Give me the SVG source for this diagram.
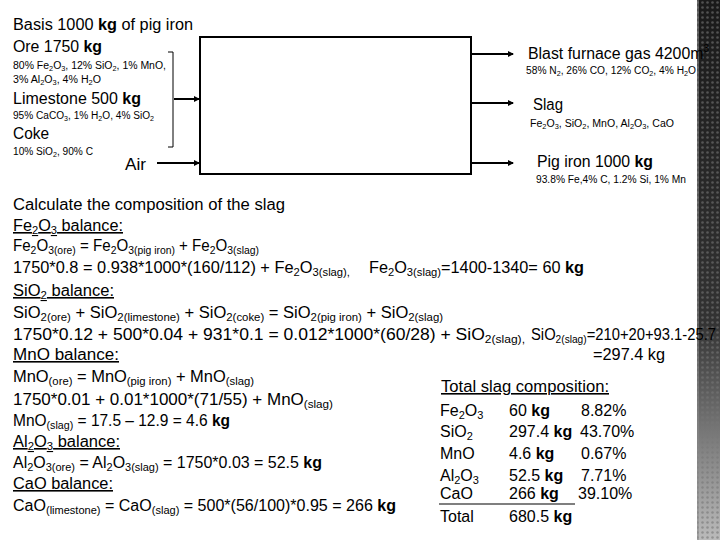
<svg xmlns="http://www.w3.org/2000/svg" width="720" height="540" viewBox="0 0 720 540">
<style>
text{font-family:"Liberation Sans",Arial,sans-serif;fill:#000}
.h{font-size:16px}
.s{font-size:10px}
.m{font-size:16px}
.u{text-decoration:underline}
.ln{stroke:#000;stroke-width:2;fill:none}
</style>
<defs>
<marker id="dot" viewBox="0 0 6 6" refX="5" refY="3" markerWidth="3" markerHeight="3" orient="auto"><path d="M0,0 L6,3 L0,6 z" fill="#000"/></marker>
<linearGradient id="edge" x1="0" y1="0" x2="0" y2="1"><stop offset="0" stop-color="#1a1a1a"/><stop offset="0.6" stop-color="#333"/><stop offset="1" stop-color="#bbb"/></linearGradient>
<pattern id="dots" width="5" height="5" patternUnits="userSpaceOnUse"><circle cx="2.5" cy="2.5" r="1.3" fill="#777" opacity="0.6"/></pattern>
</defs>
<rect width="720" height="540" fill="#fff"/>
<g id="edge-strip">
<rect x="697" y="0" width="23" height="540" fill="url(#edge)"/>
<rect x="697" y="0" width="23" height="540" fill="url(#dots)"/>
<line x1="698" y1="0" x2="698" y2="540" stroke="#888" stroke-width="1"/>
</g>
<g id="furnace"><rect x="200" y="37" width="271" height="137" class="ln"/></g>
<g id="connectors">
<path d="M168,52 H173 V147 H168" fill="none" stroke="#000" stroke-width="1"/>
<line x1="174" y1="99" x2="199" y2="99" class="ln" marker-end="url(#dot)"/>
<line x1="157" y1="163" x2="199" y2="163" class="ln" marker-end="url(#dot)"/>
<line x1="471" y1="54" x2="513" y2="54" class="ln" marker-end="url(#dot)"/>
<line x1="471" y1="103" x2="513" y2="103" class="ln" marker-end="url(#dot)"/>
<line x1="471" y1="163" x2="513" y2="163" class="ln" marker-end="url(#dot)"/>
</g>
<g id="inputs">
<text x="13" y="30" class="h" textLength="180" lengthAdjust="spacingAndGlyphs">Basis 1000 <tspan font-weight="bold">kg</tspan>  of pig iron</text>
<text x="13" y="52" class="h" textLength="89" lengthAdjust="spacingAndGlyphs">Ore 1750 <tspan font-weight="bold">kg</tspan></text>
<text x="13" y="69" class="s" textLength="153" lengthAdjust="spacingAndGlyphs">80% Fe<tspan font-size="7" dy="2">2</tspan><tspan dy="-2">O</tspan><tspan font-size="7" dy="2">3</tspan><tspan dy="-2">, 12% SiO</tspan><tspan font-size="7" dy="2">2</tspan><tspan dy="-2">, 1% MnO,</tspan></text>
<text x="13" y="83" class="s" textLength="88" lengthAdjust="spacingAndGlyphs">3% Al<tspan font-size="7" dy="2">2</tspan><tspan dy="-2">O</tspan><tspan font-size="7" dy="2">3</tspan><tspan dy="-2">, 4% H</tspan><tspan font-size="7" dy="2">2</tspan><tspan dy="-2">O</tspan></text>
<text x="13" y="104" class="h" textLength="128" lengthAdjust="spacingAndGlyphs">Limestone 500 <tspan font-weight="bold">kg</tspan></text>
<text x="13" y="119" class="s" textLength="141" lengthAdjust="spacingAndGlyphs">95% CaCO<tspan font-size="7" dy="2">3</tspan><tspan dy="-2">, 1% H</tspan><tspan font-size="7" dy="2">2</tspan><tspan dy="-2">O, 4% SiO</tspan><tspan font-size="7" dy="2">2</tspan></text>
<text x="13" y="139" class="h" textLength="36" lengthAdjust="spacingAndGlyphs">Coke</text>
<text x="13" y="155" class="s" textLength="80" lengthAdjust="spacingAndGlyphs">10% SiO<tspan font-size="7" dy="2">2</tspan><tspan dy="-2">, 90% C</tspan></text>
<text x="125" y="170" class="h" textLength="21" lengthAdjust="spacingAndGlyphs">Air</text>
</g>
<g id="outputs">
<text x="528" y="59" class="h" textLength="181" lengthAdjust="spacingAndGlyphs">Blast furnace gas 4200m<tspan font-size="10" dy="-7">3</tspan></text>
<text x="526" y="74" class="s" textLength="170" lengthAdjust="spacingAndGlyphs">58% N<tspan font-size="7" dy="2">2</tspan><tspan dy="-2">, 26% CO, 12% CO</tspan><tspan font-size="7" dy="2">2</tspan><tspan dy="-2">, 4% H</tspan><tspan font-size="7" dy="2">2</tspan><tspan dy="-2">O</tspan></text>
<text x="533" y="110" class="h" textLength="30" lengthAdjust="spacingAndGlyphs">Slag</text>
<text x="530" y="127" class="s" textLength="144" lengthAdjust="spacingAndGlyphs">Fe<tspan font-size="7" dy="2">2</tspan><tspan dy="-2">O</tspan><tspan font-size="7" dy="2">3</tspan><tspan dy="-2">, SiO</tspan><tspan font-size="7" dy="2">2</tspan><tspan dy="-2">, MnO, Al</tspan><tspan font-size="7" dy="2">2</tspan><tspan dy="-2">O</tspan><tspan font-size="7" dy="2">3</tspan><tspan dy="-2">, CaO</tspan></text>
<text x="537" y="167" class="h" textLength="116" lengthAdjust="spacingAndGlyphs">Pig iron 1000 <tspan font-weight="bold">kg</tspan></text>
<text x="536" y="183" class="s" textLength="150" lengthAdjust="spacingAndGlyphs">93.8% Fe,4% C, 1.2% Si, 1% Mn</text>
</g>
<g id="calc" class="m">
<text x="13" y="210" class="m" textLength="272" lengthAdjust="spacingAndGlyphs">Calculate the composition of the slag</text>
<text x="13" y="231" class="m u" textLength="110" lengthAdjust="spacingAndGlyphs">Fe<tspan font-size="11" dy="3">2</tspan><tspan dy="-3">O</tspan><tspan font-size="11" dy="3">3</tspan><tspan dy="-3"> balance:</tspan></text>
<text x="13" y="251" class="m" textLength="246" lengthAdjust="spacingAndGlyphs">Fe<tspan font-size="11" dy="3">2</tspan><tspan dy="-3">O</tspan><tspan font-size="11" dy="3">3(ore)</tspan><tspan dy="-3"> =  Fe</tspan><tspan font-size="11" dy="3">2</tspan><tspan dy="-3">O</tspan><tspan font-size="11" dy="3">3(pig iron)</tspan><tspan dy="-3"> + Fe</tspan><tspan font-size="11" dy="3">2</tspan><tspan dy="-3">O</tspan><tspan font-size="11" dy="3">3(slag)</tspan></text>
<text x="13" y="273" class="m" textLength="337" lengthAdjust="spacingAndGlyphs">1750*0.8  = 0.938*1000*(160/112) + Fe<tspan font-size="11" dy="3">2</tspan><tspan dy="-3">O</tspan><tspan font-size="11" dy="3">3(slag),</tspan></text>
<text x="369" y="273" class="m" textLength="215" lengthAdjust="spacingAndGlyphs">Fe<tspan font-size="11" dy="3">2</tspan><tspan dy="-3">O</tspan><tspan font-size="11" dy="3">3(slag)</tspan><tspan dy="-3">=1400-1340= 60 </tspan><tspan font-weight="bold">kg</tspan></text>
<text x="13" y="296" class="m u" textLength="101" lengthAdjust="spacingAndGlyphs">SiO<tspan font-size="11" dy="3">2</tspan><tspan dy="-3"> balance:</tspan></text>
<text x="13" y="318" class="m" textLength="430" lengthAdjust="spacingAndGlyphs">SiO<tspan font-size="11" dy="3">2(ore)</tspan><tspan dy="-3"> + SiO</tspan><tspan font-size="11" dy="3">2(limestone)</tspan><tspan dy="-3"> + SiO</tspan><tspan font-size="11" dy="3">2(coke)</tspan><tspan dy="-3"> = SiO</tspan><tspan font-size="11" dy="3">2(pig iron)</tspan><tspan dy="-3"> + SiO</tspan><tspan font-size="11" dy="3">2(slag)</tspan></text>
<text x="13" y="340" class="m" textLength="512" lengthAdjust="spacingAndGlyphs">1750*0.12 + 500*0.04 + 931*0.1 = 0.012*1000*(60/28) + SiO<tspan font-size="11" dy="3">2(slag),</tspan></text>
<text x="531" y="340" class="m" textLength="185" lengthAdjust="spacingAndGlyphs">SiO<tspan font-size="11" dy="3">2(slag)</tspan><tspan dy="-3">=210+20+93.1-25.7</tspan></text>
<text x="593" y="360" class="m" textLength="72" lengthAdjust="spacingAndGlyphs">=297.4 kg</text>
<text x="13" y="360" class="m u" textLength="106" lengthAdjust="spacingAndGlyphs">MnO balance:</text>
<text x="13" y="382" class="m" textLength="241" lengthAdjust="spacingAndGlyphs">MnO<tspan font-size="11" dy="3">(ore)</tspan><tspan dy="-3"> = MnO</tspan><tspan font-size="11" dy="3">(pig iron)</tspan><tspan dy="-3"> + MnO</tspan><tspan font-size="11" dy="3">(slag)</tspan></text>
<text x="13" y="405" class="m" textLength="320" lengthAdjust="spacingAndGlyphs">1750*0.01 + 0.01*1000*(71/55) + MnO<tspan font-size="11" dy="3">(slag)</tspan></text>
<text x="13" y="426" class="m" textLength="217" lengthAdjust="spacingAndGlyphs">MnO<tspan font-size="11" dy="3">(slag)</tspan><tspan dy="-3"> = 17.5 – 12.9 = 4.6 </tspan><tspan font-weight="bold">kg</tspan></text>
<text x="13" y="447" class="m u" textLength="107" lengthAdjust="spacingAndGlyphs">Al<tspan font-size="11" dy="3">2</tspan><tspan dy="-3">O</tspan><tspan font-size="11" dy="3">3</tspan><tspan dy="-3"> balance:</tspan></text>
<text x="13" y="468" class="m" textLength="309" lengthAdjust="spacingAndGlyphs">Al<tspan font-size="11" dy="3">2</tspan><tspan dy="-3">O</tspan><tspan font-size="11" dy="3">3(ore)</tspan><tspan dy="-3"> = Al</tspan><tspan font-size="11" dy="3">2</tspan><tspan dy="-3">O</tspan><tspan font-size="11" dy="3">3(slag)</tspan><tspan dy="-3"> = 1750*0.03 = 52.5 </tspan><tspan font-weight="bold">kg</tspan></text>
<text x="13" y="489" class="m u" textLength="100" lengthAdjust="spacingAndGlyphs">CaO balance:</text>
<text x="13" y="511" class="m" textLength="383" lengthAdjust="spacingAndGlyphs">CaO<tspan font-size="11" dy="3">(limestone)</tspan><tspan dy="-3"> = CaO</tspan><tspan font-size="11" dy="3">(slag)</tspan><tspan dy="-3"> = 500*(56/100)*0.95 = 266 </tspan><tspan font-weight="bold">kg</tspan></text>
</g>
<g id="table">
<text x="441" y="392" class="m u" textLength="168" lengthAdjust="spacingAndGlyphs">Total slag composition:</text>
<text x="440" y="416" class="m">Fe<tspan font-size="11" dy="3">2</tspan><tspan dy="-3">O</tspan><tspan font-size="11" dy="3">3</tspan></text>
<text x="509" y="416" class="m">60 <tspan font-weight="bold">kg</tspan></text>
<text x="581" y="416" class="m">8.82%</text>
<text x="440" y="437" class="m">SiO<tspan font-size="11" dy="3">2</tspan></text>
<text x="509" y="437" class="m">297.4 <tspan font-weight="bold">kg</tspan></text>
<text x="580" y="437" class="m">43.70%</text>
<text x="440" y="459" class="m">MnO</text>
<text x="509" y="459" class="m">4.6 <tspan font-weight="bold">kg</tspan></text>
<text x="581" y="459" class="m">0.67%</text>
<text x="440" y="481" class="m">Al<tspan font-size="11" dy="3">2</tspan><tspan dy="-3">O</tspan><tspan font-size="11" dy="3">3</tspan></text>
<text x="509" y="481" class="m">52.5 <tspan font-weight="bold">kg</tspan></text>
<text x="581" y="481" class="m">7.71%</text>
<text x="440" y="499" class="m">CaO</text>
<text x="509" y="499" class="m">266 <tspan font-weight="bold">kg</tspan></text>
<text x="578" y="499" class="m">39.10%</text>
<line x1="439" y1="504" x2="575" y2="504" stroke="#000" stroke-width="1.2"/>
<text x="440" y="522" class="m">Total</text>
<text x="509" y="522" class="m">680.5 <tspan font-weight="bold">kg</tspan></text>
</g>
</svg>
